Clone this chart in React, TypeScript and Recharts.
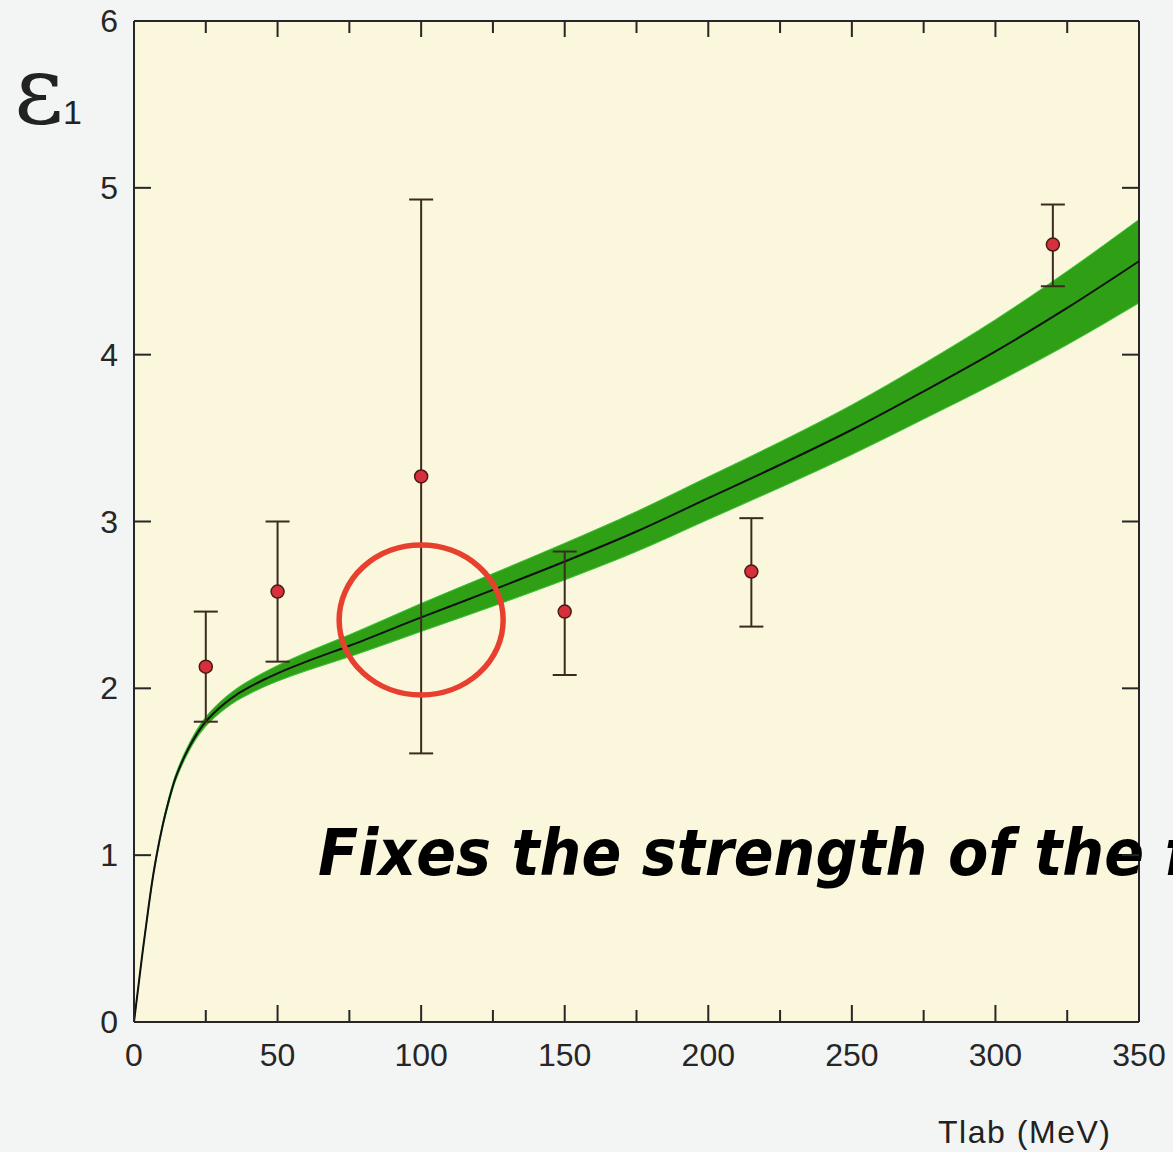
import {
  ComposedChart,
  Area,
  Line,
  Scatter,
  ErrorBar,
  XAxis,
  YAxis,
  CartesianGrid,
  ReferenceDot,
  ReferenceLine,
} from 'recharts';

// theory curve (Tlab in MeV)
const curveT = [0, 1.5, 3, 5, 6.5, 8, 10, 12, 14, 16, 19, 22, 25, 28, 32, 36, 40, 45, 50, 60, 75, 100, 125, 150, 175, 200, 225, 250, 275, 300, 325, 350];
const curveMid = [0, 0.21, 0.42, 0.68, 0.86, 1.01, 1.18, 1.32, 1.44, 1.53, 1.64, 1.73, 1.8, 1.855, 1.915, 1.965, 2.005, 2.05, 2.09, 2.16, 2.255, 2.425, 2.59, 2.76, 2.94, 3.14, 3.34, 3.55, 3.78, 4.02, 4.28, 4.56];
// half width of the green uncertainty band
const bandHalf = [0, 0.003, 0.005, 0.008, 0.01, 0.012, 0.014, 0.016, 0.018, 0.02, 0.022, 0.025, 0.028, 0.031, 0.034, 0.037, 0.04, 0.043, 0.047, 0.055, 0.066, 0.084, 0.098, 0.11, 0.12, 0.128, 0.137, 0.149, 0.166, 0.19, 0.22, 0.25];

// data points with error bars
const ptT = [25, 50, 100, 150, 215, 320];
const ptVal = [2.13, 2.58, 3.27, 2.46, 2.7, 4.66];
const ptLow = [1.8, 2.16, 1.61, 2.08, 2.37, 4.41];
const ptHigh = [2.46, 3.0, 4.93, 2.82, 3.02, 4.9];

const xTicks = [0, 25, 50, 75, 100, 125, 150, 175, 200, 225, 250, 275, 300, 325, 350];
const yTicks = [0, 1, 2, 3, 4, 5, 6];

const curveData = curveT.map((t, i) => ({
  t,
  mid: curveMid[i],
  band: [curveMid[i] - bandHalf[i], curveMid[i] + bandHalf[i]],
}));
const pointData = ptT.map((t, i) => ({ t, v: ptVal[i], err: [ptVal[i] - ptLow[i], ptHigh[i] - ptVal[i]] }));

const INK = '#262626';
const PLOT_W = 1005;
const PLOT_H = 1001;
const labelFont = { fontFamily: '"Liberation Sans", Arial, sans-serif', fontSize: 32, fill: INK };

// bottom axis tick: inward mark at bottom and top frame, label below
const BottomTick = ({ x, y, payload }: any) => {
  const major = payload.value % 50 === 0;
  const inner = payload.value > 0 && payload.value < 350;
  const top = y - PLOT_H;
  return (
    <g>
      {inner && <line x1={x} x2={x} y1={y} y2={y - (major ? 17 : 12)} stroke={INK} strokeWidth={2} />}
      {inner && <line x1={x} x2={x} y1={top} y2={top + (major ? 16 : 12)} stroke={INK} strokeWidth={2} />}
      {major && (
        <text x={x} y={y + 44} textAnchor="middle" {...labelFont}>
          {payload.value}
        </text>
      )}
    </g>
  );
};

// left axis tick: inward mark at left and right frame, label on the left
const LeftTick = ({ x, y, payload }: any) => {
  const inner = payload.value > 0 && payload.value < 6;
  const right = x + PLOT_W;
  return (
    <g>
      {inner && <line x1={x} x2={x + 17} y1={y} y2={y} stroke={INK} strokeWidth={2} />}
      {inner && <line x1={right} x2={right - 17} y1={y} y2={y} stroke={INK} strokeWidth={2} />}
      <text x={x - 16} y={y + 11} textAnchor="end" {...labelFont}>
        {payload.value}
      </text>
    </g>
  );
};

const Dot = ({ cx, cy }: any) => (
  <circle cx={cx} cy={cy} r={6.5} fill="#d6303c" stroke="#4a1a12" strokeWidth={1.5} />
);

const App = () => {
  return (
    <div style={{ position: 'relative', width: 1173, height: 1152, background: '#f2f5f3' }}>
      <style>{`body{margin:0}`}</style>
      <ComposedChart
        width={1173}
        height={1152}
        data={curveData}
        margin={{ top: 21, right: 34, bottom: 100, left: 74 }}
      >
        <CartesianGrid horizontal={false} vertical={false} fill="#faf7dc" stroke="none" />
        <XAxis
          dataKey="t"
          type="number"
          domain={[0, 350]}
          ticks={xTicks}
          interval={0}
          height={30}
          tickSize={0}
          tickMargin={0}
          tickLine={false}
          axisLine={{ stroke: INK, strokeWidth: 2 }}
          tick={<BottomTick />}
        />
        <YAxis
          type="number"
          domain={[0, 6]}
          ticks={yTicks}
          interval={0}
          width={60}
          tickSize={0}
          tickMargin={0}
          tickLine={false}
          axisLine={{ stroke: INK, strokeWidth: 2 }}
          tick={<LeftTick />}
        />
        <ReferenceLine y={6} stroke={INK} strokeWidth={2} ifOverflow="visible" />
        <ReferenceLine x={350} stroke={INK} strokeWidth={2} ifOverflow="visible" />
        <Area
          dataKey="band"
          type="monotone"
          fill="#2fa016"
          fillOpacity={1}
          stroke="#3cc43a"
          strokeWidth={1}
          isAnimationActive={false}
        />
        <Line
          dataKey="mid"
          type="monotone"
          stroke="#111"
          strokeWidth={2}
          dot={false}
          isAnimationActive={false}
        />
        <Scatter data={pointData} dataKey="v" shape={<Dot />} isAnimationActive={false}>
          <ErrorBar dataKey="err" direction="y" width={12} stroke="#3b2a1e" strokeWidth={2} />
        </Scatter>
        <ReferenceDot
          x={100}
          y={2.41}
          ifOverflow="visible"
          shape={(p: any) => (
            <ellipse cx={p.cx} cy={p.cy} rx={82} ry={75} fill="none" stroke="#e8402e" strokeWidth={5.5} />
          )}
        />
        <ReferenceDot
          x={64.1}
          y={0.88}
          ifOverflow="visible"
          shape={(p: any) => (
            <text
              x={p.cx}
              y={p.cy}
              textLength={872}
              lengthAdjust="spacingAndGlyphs"
              fontFamily='"Comic Sans MS", "DejaVu Sans", sans-serif'
              fontWeight="bold"
              fontStyle="italic"
              fontSize={64}
              fill="#000"
            >
              Fixes the strength of the f
            </text>
          )}
        />
      </ComposedChart>
      <svg width={1173} height={1152} style={{ position: 'absolute', left: 0, top: 0, pointerEvents: 'none' }}>
        <text x={14} y={123} fontFamily='"DejaVu Serif", serif' fontSize={96} fill="#222">
          ε
        </text>
        <text x={63} y={124} fontFamily='"Liberation Sans", Arial, sans-serif' fontSize={34} fill="#222">
          1
        </text>
        <text x={938} y={1143} textLength={172} fontFamily='"Liberation Sans", Arial, sans-serif' fontSize={32} fill="#222">
          Tlab (MeV)
        </text>
      </svg>
    </div>
  );
};

export default App;
